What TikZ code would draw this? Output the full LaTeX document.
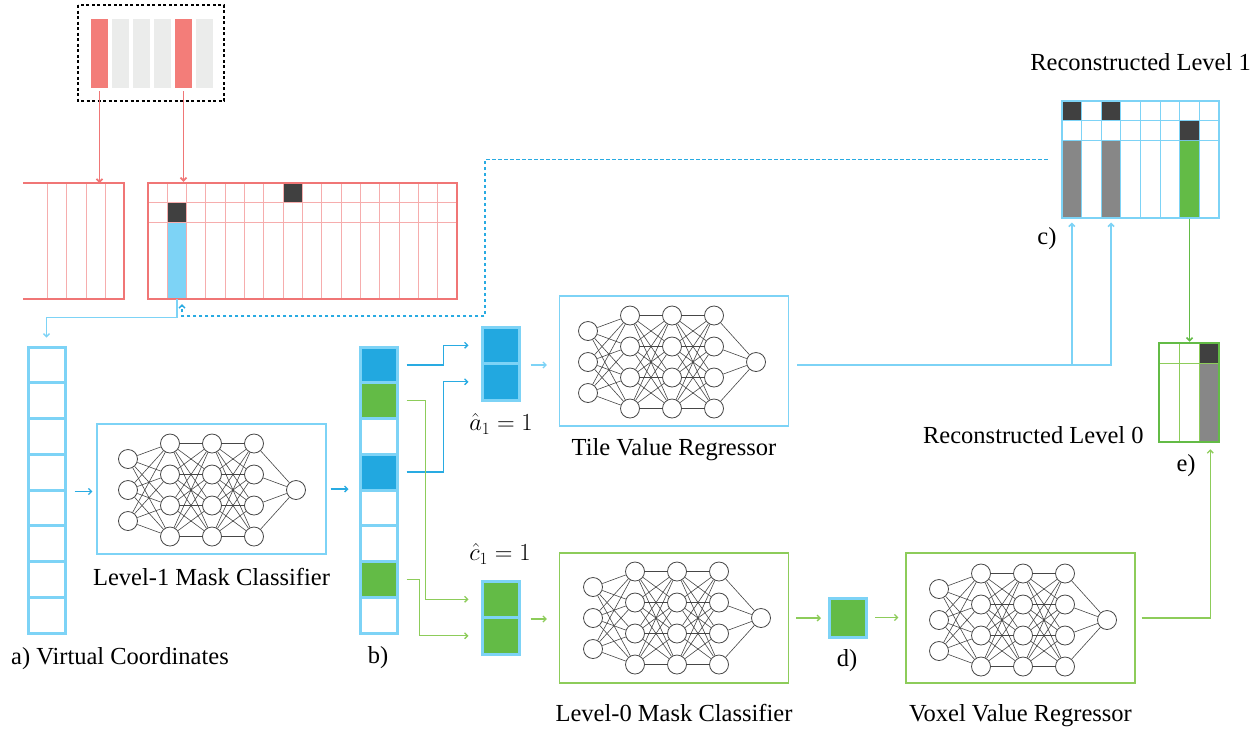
\documentclass[tikz,border=0pt]{standalone}
\usepackage{fix-cm}
\usepackage{fontspec}
\setmainfont{Liberation Serif}
\usetikzlibrary{arrows.meta,positioning}
\definecolor{barred}{RGB}{243,125,121}
\definecolor{gridred}{RGB}{240,118,118}
\definecolor{barpale}{RGB}{235,236,235}
\definecolor{lblue}{RGB}{125,211,246}
\definecolor{mblue}{RGB}{41,171,226}
\definecolor{cellblue}{RGB}{34,168,224}
\definecolor{cellgreen}{RGB}{99,187,70}
\definecolor{lgreen}{RGB}{141,204,90}
\definecolor{darkcell}{RGB}{64,64,64}
\definecolor{graycol}{RGB}{135,135,135}
\definecolor{nngray}{RGB}{70,70,70}
\tikzset{
 neuron/.style={circle,draw=nngray,fill=white,line width=0.8pt,minimum size=19pt,inner sep=0pt},
 syn/.style={nngray,line width=0.6pt},
 netbox/.style={draw=#1,line width=1.3pt,minimum width=229pt,minimum height=130pt,inner sep=0pt},
 vcell/.style={draw=lblue,fill=#1,line width=3pt,minimum width=37pt,minimum height=35.75pt,inner sep=0pt},
 arr/.style={line width=1.3pt,-{Straight Barb[length=3pt,width=6pt]}},
 lab/.style={font=\fontsize{24.5}{29}\selectfont,inner sep=0pt},
}
\newcommand{\nnet}[3]{%
 \foreach \j in {1,2,3} \node[neuron] (#1-0-\j) at (#2-84,#3+\j*31-62) {};
 \foreach \l in {1,2,3} \foreach \j in {1,...,4} \node[neuron] (#1-\l-\j) at (#2+\l*42-84,#3+\j*31-77.5) {};
 \node[neuron] (#1-4-1) at (#2+84,#3) {};
 \foreach \i in {1,2,3} \foreach \j in {1,...,4} \draw[syn] (#1-0-\i) -- (#1-1-\j);
 \foreach \l/\m in {1/2,2/3} \foreach \i in {1,...,4} \foreach \j in {1,...,4} \draw[syn] (#1-\l-\i) -- (#1-\m-\j);
 \foreach \i in {1,...,4} \draw[syn] (#1-3-\i) -- (#1-4-1);
}
\begin{document}
\begin{tikzpicture}[x=1pt,y=-1pt]
\useasboundingbox (0,0) rectangle (1260,729);

\draw[line width=1.2pt,dash pattern=on 3pt off 2.5pt] (78,5) rectangle (224,101);
\foreach \i/\f in {1/barred,2/barpale,3/barpale,4/barpale,5/barred,6/barpale}
 \node[fill=\f,minimum width=17pt,minimum height=69pt,inner sep=0pt] (bar\i) at (78.5+\i*21,53.5) {};

\draw[gridred!60,line width=1pt] foreach \x in {47,66,86,105} {(\x,183) -- (\x,299)};
\draw[gridred,line width=2.5pt] (23,183) -- (124,183) -- (124,299) -- (23,299);
\coordinate (lgtop) at (23,183);

\node[fill=lblue,minimum width=19.3pt,minimum height=77pt,inner sep=0pt] (bc) at (177,260.5) {};
\fill[darkcell] (167.3,202.5) rectangle (186.6,222) (283.2,183) rectangle (302.5,202.5);
\draw[gridred!60,line width=1pt] foreach \i in {1,...,15} {(148+\i*19.3125,183) -- (148+\i*19.3125,299)}
 (148,202.5) -- (457,202.5) (148,222) -- (457,222);
\node[draw=gridred,line width=2.5pt,minimum width=309pt,minimum height=116pt,inner sep=0pt] (rg) at (302.5,241) {};

\draw[gridred,arr,line width=1.6pt,shorten <=3pt] (bar1.south) -- (bar1.south |- lgtop);
\draw[gridred,arr,line width=1.6pt,shorten <=3pt] (bar5.south) -- (bar5.south |- rg.north);

\foreach \i in {1,...,8} \node[vcell=white] (vc-\i) at (46.5,329.125+\i*35.75) {};
\node[lab,anchor=west] at (11,659) {a) Virtual Coordinates};
\foreach \i/\f in {1/cellblue,2/cellgreen,3/white,4/cellblue,5/white,6/white,7/cellgreen,8/white}
 \node[vcell=\f] (b-\i) at (378.5,329.125+\i*35.75) {};
\node[lab] at (378,658) {b)};

\foreach \i in {1,2} \node[vcell=cellblue,minimum height=36.5pt] (a-\i) at (500.5,308.75+\i*36.5) {};
\node[lab] at (501,424) {$\hat{a}_1=1$};
\foreach \i in {1,2} \node[vcell=cellgreen,minimum height=36.5pt] (c-\i) at (500.5,562.75+\i*36.5) {};
\node[lab] at (500,554) {$\hat{c}_1=1$};

\node[netbox=lblue] (mc1) at (211.5,489) {};
\nnet{l1}{212}{490}
\node[lab,below=13pt of mc1] {Level-1 Mask Classifier};
\node[netbox=lblue] (tvr) at (674,361) {};
\nnet{tv}{672}{362}
\node[lab,below=12pt of tvr] {Tile Value Regressor};
\node[netbox=lgreen] (mc0) at (674,618) {};
\nnet{l0}{677}{618}
\node[lab,below=20pt of mc0] {Level-0 Mask Classifier};
\node[vcell=cellgreen,minimum height=39pt] (d) at (848,617.5) {};
\node[lab] at (847,661) {d)};
\node[netbox=lgreen] (vvr) at (1020.5,618) {};
\nnet{vv}{1023}{620}
\node[lab,below=21pt of vvr] {Voxel Value Regressor};

\foreach \i/\f in {0/graycol,1/white,2/graycol,3/white,4/white,5/white,6/cellgreen,7/white}
 \node[draw=lblue,fill=\f,line width=1pt,minimum width=19.625pt,minimum height=78pt,inner sep=0pt] (r1-\i) at (1071.8+\i*19.625,179) {};
\fill[darkcell] (1062,101) rectangle (1081.6,120.5) (1101.25,101) rectangle (1120.9,120.5) (1179.75,120.5) rectangle (1199.4,140);
\draw[lblue,line width=1pt] foreach \i in {1,...,7} {(1062+\i*19.625,101) -- (1062+\i*19.625,140)} (1062,120.5) -- (1219,120.5);
\node[draw=lblue,line width=2.5pt,minimum width=157pt,minimum height=117pt,inner sep=0pt] (r1) at (1140.5,159.5) {};
\node[lab,above=29pt of r1] {Reconstructed Level 1};
\node[lab] at (1047,239) {c)};

\fill[graycol] (1199,363) rectangle (1219,442);
\fill[darkcell] (1199,343) rectangle (1219,363);
\draw[lgreen,line width=1pt] (1179,343) -- (1179,442) (1199,343) -- (1199,442) (1159,363) -- (1219,363);
\node[draw=cellgreen,line width=2.5pt,minimum width=60pt,minimum height=99pt,inner sep=0pt] (e) at (1189,392.5) {};
\node[lab,anchor=base east] at ([xshift=-14pt]e.south west) {Reconstructed Level 0};
\node[lab] at (1186,466) {e)};

\draw[lblue,arr,shorten >=8pt] (bc.south) -- ++(0,18) -| (vc-1.north);
\coordinate (dk) at (485,316);
\draw[mblue,arr,line width=1.3pt,dash pattern=on 3.5pt off 2.5pt,shorten <=13pt,shorten >=5pt] (r1.west) -| (dk) -| ([xshift=5pt]bc.south);
\draw[mblue,arr,shorten <=8pt,shorten >=4pt] (vc-4.south east) -- (vc-4.south east -| mc1.west);
\draw[mblue,arr,shorten <=4pt,shorten >=10pt] (mc1.east) -- (mc1.east -| b-4.west);
\draw[mblue,arr,shorten <=8pt,shorten >=12pt] (b-1.east) -- ++(45,0) |- (a-1.west);
\draw[mblue,arr,shorten <=8pt,shorten >=12pt] (b-4.east) -- ++(45,0) |- (a-2.west);
\draw[lgreen,arr,shorten <=8pt,shorten >=12pt] (b-2.east) -- ++(27,0) |- (c-1.west);
\draw[lgreen,arr,shorten <=8pt,shorten >=12pt] (b-7.east) -- ++(21,0) |- (c-2.west);
\draw[lblue,arr,shorten <=10pt,shorten >=12pt] (a-1.south east) -- (a-1.south east -| tvr.west);
\draw[lgreen,arr,shorten <=10pt,shorten >=12pt] (c-1.south east) -- (c-1.south east -| mc0.west);
\draw[lgreen,arr,shorten <=7pt,shorten >=7pt] (mc0.east) -- (mc0.east -| d.west);
\draw[lgreen,arr,shorten <=7pt,shorten >=7pt] (d.east) -- (d.east -| vvr.west);
\draw[lgreen,arr,shorten <=6pt,shorten >=6pt] (vvr.east) -| ([xshift=-10pt]e.south east);
\draw[lblue,arr,line width=1.6pt,shorten <=8pt,shorten >=4pt] (tvr.east |- a-1.south east) -| (r1-2.south);
\draw[lblue,arr,line width=1.6pt,shorten >=4pt] (r1-0.south |- a-1.south east) -- (r1-0.south);
\draw[cellgreen,arr,line width=1.6pt] (r1-6.south) -- (r1-6.south |- e.north);
\end{tikzpicture}
\end{document}
